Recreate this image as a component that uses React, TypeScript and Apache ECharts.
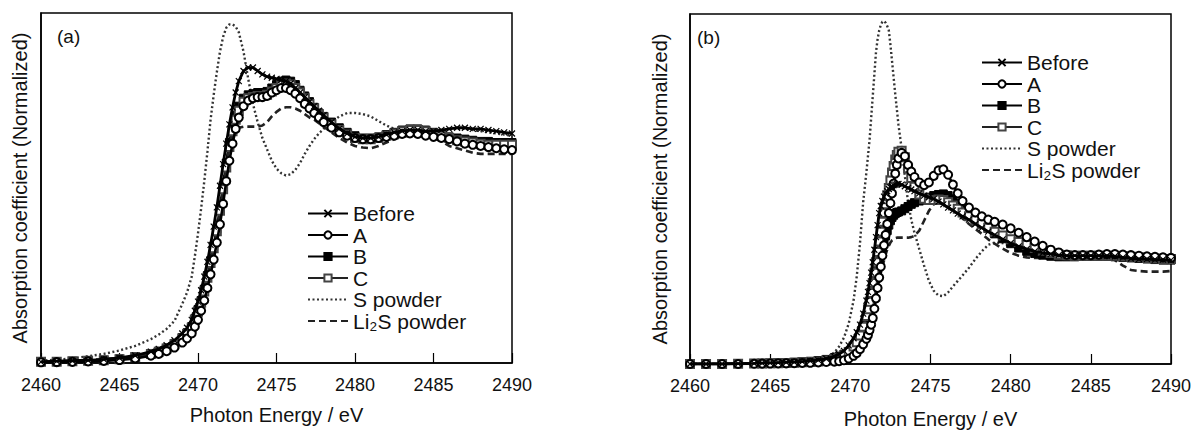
import React, { useEffect, useRef } from "react";
import * as echarts from "echarts";

// ---------- Panel (a) ----------
const energyA = [
  2460, 2461, 2462, 2463, 2464, 2465, 2466, 2467, 2467.5, 2468,
  2468.5, 2469, 2469.3, 2469.6,
  2469.8, 2470, 2470.2, 2470.4, 2470.6, 2470.8, 2471, 2471.2, 2471.4, 2471.6,
  2471.8, 2472, 2472.2, 2472.4, 2472.6,
  2472.9, 2473.2, 2473.5, 2473.8, 2474.1, 2474.4,
  2474.7, 2475, 2475.3, 2475.6, 2475.9, 2476.2, 2476.5, 2476.8, 2477.1, 2477.4,
  2477.7, 2478, 2478.5, 2479, 2479.5, 2480, 2480.5, 2481, 2481.5, 2482,
  2482.5, 2483, 2483.5, 2484, 2484.5, 2485, 2485.5, 2486, 2486.5, 2487,
  2487.5, 2488, 2488.5, 2489, 2489.5, 2490,
];
const beforeA = [
  0.005, 0.008, 0.01, 0.012, 0.016, 0.022, 0.033, 0.05, 0.062, 0.078,
  0.1, 0.13, 0.155, 0.19,
  0.23, 0.27, 0.32, 0.38, 0.445, 0.52, 0.6, 0.685, 0.78, 0.875,
  0.965, 1.05, 1.125, 1.19, 1.24,
  1.285, 1.3, 1.3, 1.285, 1.27, 1.26,
  1.255, 1.25, 1.245, 1.24, 1.23, 1.21, 1.19, 1.17, 1.15, 1.13,
  1.11, 1.09, 1.06, 1.03, 1.01, 0.995, 0.99, 0.99, 0.995, 1.005,
  1.015, 1.02, 1.025, 1.025, 1.02, 1.02, 1.025, 1.03, 1.035, 1.035,
  1.03, 1.03, 1.025, 1.02, 1.015, 1.01,
];
const sampleA_A = [
  0.003, 0.004, 0.005, 0.007, 0.009, 0.013, 0.02, 0.032, 0.04, 0.052,
  0.068, 0.09, 0.108, 0.13,
  0.16, 0.19, 0.23, 0.275, 0.33, 0.39, 0.455, 0.53, 0.61, 0.7,
  0.8, 0.89, 0.965, 1.03, 1.08,
  1.13, 1.155, 1.165, 1.17, 1.17, 1.175,
  1.19, 1.2, 1.21, 1.21, 1.2, 1.185, 1.165, 1.14, 1.12, 1.1,
  1.08, 1.06, 1.035, 1.015, 1.0, 0.99, 0.985, 0.985, 0.99, 0.995,
  1.0, 1.008, 1.01, 1.008, 1.0, 0.995, 0.99, 0.985, 0.975, 0.965,
  0.96, 0.955, 0.95, 0.945, 0.94, 0.937,
];
const sampleB_A = [
  0.005, 0.006, 0.008, 0.01, 0.013, 0.018, 0.028, 0.042, 0.052, 0.066,
  0.085, 0.112, 0.133, 0.16,
  0.195, 0.235, 0.275, 0.325, 0.385, 0.45, 0.515, 0.59, 0.68, 0.78,
  0.88, 0.97, 1.04, 1.09, 1.13,
  1.165, 1.18, 1.185, 1.19, 1.19, 1.195,
  1.21, 1.225, 1.24, 1.245, 1.24, 1.225, 1.2, 1.175, 1.15, 1.125,
  1.1, 1.085, 1.06, 1.035, 1.015, 1.0, 0.99, 0.99, 0.995, 1.005,
  1.015, 1.025, 1.03, 1.03, 1.025, 1.015, 1.005, 0.995, 0.99, 0.985,
  0.98, 0.975, 0.975, 0.97, 0.97, 0.97,
];
const sampleC_A = [
  0.005, 0.006, 0.008, 0.01, 0.012, 0.017, 0.026, 0.04, 0.05, 0.064,
  0.082, 0.108, 0.128, 0.155,
  0.19, 0.225, 0.265, 0.315, 0.375, 0.44, 0.505, 0.58, 0.67, 0.765,
  0.86, 0.95, 1.02, 1.07, 1.11,
  1.15, 1.165, 1.17, 1.175, 1.175, 1.18,
  1.195, 1.21, 1.225, 1.23, 1.225, 1.21, 1.19, 1.165, 1.14, 1.12,
  1.095, 1.08, 1.05, 1.025, 1.005, 0.99, 0.985, 0.985, 0.99, 1.0,
  1.01, 1.02, 1.025, 1.025, 1.02, 1.01, 1.0, 0.99, 0.98, 0.975,
  0.97, 0.965, 0.96, 0.96, 0.96, 0.96,
];
const sPowderA = [
  0.01, 0.015, 0.02, 0.03, 0.04, 0.055, 0.075, 0.105, 0.125, 0.15,
  0.185, 0.26, 0.31, 0.38,
  0.47, 0.57, 0.68, 0.8, 0.93, 1.07, 1.18, 1.28, 1.37, 1.435,
  1.475, 1.49, 1.49, 1.48, 1.455,
  1.37, 1.25, 1.14, 1.06, 0.99, 0.94,
  0.89, 0.855, 0.835, 0.825, 0.83, 0.85, 0.88, 0.92, 0.955, 0.985,
  1.01, 1.03, 1.06, 1.085, 1.1, 1.1, 1.095, 1.085, 1.065, 1.045,
  1.03, 1.02, 1.02, 1.02, 1.02, 1.02, 1.025, 1.03, 1.03, 1.03,
  1.025, 1.02, 1.015, 1.01, 1.005, 1.0,
];
const li2sPowderA = [
  0.005, 0.007, 0.01, 0.013, 0.017, 0.022, 0.032, 0.046, 0.056, 0.07,
  0.088, 0.115, 0.135, 0.165,
  0.2, 0.24, 0.28, 0.33, 0.395, 0.46, 0.53, 0.61, 0.7, 0.795,
  0.885, 0.95, 0.995, 1.02, 1.035,
  1.04, 1.04, 1.04, 1.04, 1.045, 1.06,
  1.085, 1.105, 1.12, 1.125, 1.125, 1.12, 1.11, 1.095, 1.08, 1.07,
  1.055, 1.04, 1.015, 0.99, 0.97, 0.955, 0.948, 0.945, 0.955, 0.97,
  0.985, 0.995, 1.0, 1.0, 0.995, 0.99, 0.975, 0.955, 0.945, 0.935,
  0.925, 0.92, 0.92, 0.92, 0.92, 0.92,
];

// ---------- Panel (b) ----------
const energyB = [
  2460, 2461, 2462, 2463, 2464, 2464.5, 2465, 2465.5, 2466, 2466.5,
  2467, 2467.5, 2468, 2468.5, 2469, 2469.3, 2469.6, 2469.9, 2470.2, 2470.4,
  2470.6, 2470.8,
  2471, 2471.1, 2471.2, 2471.3, 2471.4, 2471.5, 2471.6, 2471.7, 2471.8, 2471.9,
  2472, 2472.1, 2472.2, 2472.3, 2472.4, 2472.5, 2472.6, 2472.7, 2472.8, 2472.9, 2473,
  2473.2, 2473.4, 2473.6, 2473.8, 2474, 2474.3, 2474.6,
  2474.9, 2475.2, 2475.5, 2475.8, 2476.1, 2476.4, 2476.7, 2477, 2477.4, 2477.8,
  2478.2, 2478.6, 2479, 2479.5, 2480, 2480.5, 2481, 2481.5, 2482, 2482.5,
  2483, 2483.5, 2484, 2484.5, 2485, 2485.5, 2486, 2486.5, 2487, 2487.5,
  2488, 2488.5, 2489, 2489.5, 2490,
];
const beforeB = [
  0.0, 0.0, 0.0, 0.003, 0.006, 0.008, 0.01, 0.012, 0.015, 0.018,
  0.022, 0.028, 0.036, 0.048, 0.07, 0.09, 0.12, 0.17, 0.235, 0.29,
  0.36, 0.46,
  0.58, 0.66, 0.74, 0.835, 0.93, 1.045, 1.16, 1.27, 1.38, 1.445,
  1.49, 1.53, 1.56, 1.58, 1.6, 1.615, 1.625, 1.635, 1.64, 1.643, 1.646,
  1.64, 1.625, 1.61, 1.595, 1.58, 1.56, 1.54,
  1.525, 1.51, 1.485, 1.46, 1.43, 1.405, 1.375, 1.35, 1.32, 1.28,
  1.245, 1.21, 1.18, 1.14, 1.105, 1.075, 1.05, 1.03, 1.015, 1.005,
  0.995, 0.99, 0.99, 0.99, 0.99, 0.99, 0.99, 0.985, 0.975, 0.965,
  0.96, 0.96, 0.955, 0.955, 0.95,
];
const sampleA_B = [
  0.0, 0.0, 0.0, 0.0, 0.002, 0.003, 0.004, 0.005, 0.006, 0.007,
  0.009, 0.011, 0.014, 0.018, 0.022, 0.026, 0.034, 0.05, 0.075, 0.1,
  0.135, 0.18,
  0.23, 0.265, 0.31, 0.36, 0.42, 0.505, 0.6, 0.695, 0.79, 0.89,
  0.99, 1.085, 1.18, 1.28, 1.38, 1.47, 1.56, 1.65, 1.74, 1.82, 1.88,
  1.93, 1.9, 1.82, 1.76, 1.71, 1.66, 1.635,
  1.66, 1.72, 1.77, 1.78, 1.73, 1.64, 1.56, 1.49, 1.43, 1.385,
  1.35, 1.32, 1.3, 1.275, 1.24, 1.2, 1.16, 1.12, 1.08, 1.045,
  1.02, 1.0, 0.995, 0.995, 0.995, 1.0, 1.005, 1.005, 1.0, 0.995,
  0.99, 0.985, 0.98, 0.975, 0.97,
];
const sampleB_B = [
  0.0, 0.0, 0.0, 0.003, 0.005, 0.007, 0.009, 0.011, 0.013, 0.016,
  0.02, 0.025, 0.032, 0.042, 0.058, 0.072, 0.09, 0.115, 0.145, 0.18,
  0.23, 0.29,
  0.37, 0.42, 0.48, 0.545, 0.62, 0.7, 0.78, 0.855, 0.93, 1.0,
  1.06, 1.12, 1.17, 1.22, 1.27, 1.31, 1.34, 1.36, 1.375, 1.385, 1.39,
  1.4, 1.42, 1.44, 1.46, 1.475, 1.49, 1.51,
  1.525, 1.54, 1.55, 1.555, 1.54, 1.51, 1.47, 1.43, 1.38, 1.33,
  1.28, 1.24, 1.19, 1.145, 1.1, 1.06, 1.03, 1.01, 0.995, 0.985,
  0.98, 0.98, 0.98, 0.985, 0.985, 0.985, 0.985, 0.98, 0.975, 0.97,
  0.965, 0.96, 0.955, 0.95, 0.95,
];
const sampleC_B = [
  0.0, 0.0, 0.0, 0.002, 0.004, 0.005, 0.006, 0.008, 0.01, 0.012,
  0.015, 0.019, 0.024, 0.032, 0.045, 0.058, 0.078, 0.11, 0.16, 0.2,
  0.26, 0.34,
  0.44, 0.5, 0.57, 0.65, 0.74, 0.835, 0.93, 1.025, 1.12, 1.21,
  1.3, 1.38, 1.46, 1.535, 1.61, 1.68, 1.75, 1.81, 1.87, 1.91, 1.94,
  1.95, 1.89, 1.79, 1.7, 1.62, 1.55, 1.51,
  1.5, 1.5, 1.505, 1.5, 1.48, 1.45, 1.42, 1.385, 1.35, 1.315,
  1.28, 1.245, 1.21, 1.175, 1.14, 1.115, 1.09, 1.06, 1.035, 1.015,
  1.0, 0.995, 0.99, 0.99, 0.99, 0.99, 0.99, 0.99, 0.985, 0.98,
  0.975, 0.97, 0.965, 0.96, 0.96,
];
const sPowderB = [
  0.0, 0.0, 0.0, 0.005, 0.008, 0.01, 0.012, 0.015, 0.018, 0.022,
  0.027, 0.033, 0.04, 0.05, 0.105, 0.16, 0.24, 0.37, 0.58, 0.8,
  1.1, 1.48,
  1.75, 1.9, 2.05, 2.25, 2.45, 2.65, 2.85, 2.97, 3.05, 3.1,
  3.13, 3.135, 3.12, 3.09, 3.05, 2.92, 2.77, 2.62, 2.47, 2.33, 2.19,
  1.97, 1.72, 1.48, 1.32, 1.2, 1.05, 0.9,
  0.76, 0.67, 0.625, 0.62, 0.655, 0.71, 0.76, 0.81, 0.88, 0.96,
  1.03, 1.09, 1.11, 1.105, 1.08, 1.05, 1.02, 1.0, 0.99, 0.985,
  0.98, 0.98, 0.98, 0.98, 0.98, 0.98, 0.98, 0.975, 0.97, 0.965,
  0.96, 0.955, 0.955, 0.955, 0.95,
];
const li2sPowderB = [
  0.0, 0.0, 0.0, 0.002, 0.004, 0.005, 0.007, 0.009, 0.011, 0.014,
  0.017, 0.022, 0.028, 0.038, 0.052, 0.065, 0.082, 0.11, 0.15, 0.19,
  0.24, 0.31,
  0.39, 0.44, 0.49, 0.545, 0.6, 0.645, 0.69, 0.735, 0.78, 0.835,
  0.89, 0.945, 1.0, 1.045, 1.08, 1.11, 1.13, 1.14, 1.15, 1.155, 1.155,
  1.155, 1.155, 1.155, 1.16, 1.17, 1.22, 1.31,
  1.4, 1.46, 1.49, 1.485, 1.46, 1.42, 1.38, 1.33, 1.28, 1.235,
  1.19, 1.14, 1.1, 1.055, 1.015, 0.99, 0.975, 0.97, 0.97, 0.97,
  0.975, 0.98, 0.985, 0.985, 0.985, 0.98, 0.97, 0.95, 0.9, 0.86,
  0.85, 0.845, 0.845, 0.845, 0.85,
];

const xTicks = [2460, 2465, 2470, 2475, 2480, 2485, 2490];
const LI2S = "Li\u2082S powder";
const legendNames = ["Before", "A", "B", "C", "S powder", LI2S];

const FONT = "'Liberation Sans', Arial, Helvetica, 'DejaVu Sans', sans-serif";
const INK = "#111";

const pair = (xs: number[], ys: number[]) => xs.map((x, i) => [x, ys[i]]);

const seriesStyle: Record<string, any> = {
  Before: {
    symbol: "path://M0,0L10,10M10,0L0,10",
    symbolSize: 6,
    itemStyle: { color: "#000", borderColor: "#000", borderWidth: 1.2 },
    lineStyle: { color: "#000", width: 2.8 },
  },
  A: {
    symbol: "circle",
    symbolSize: 8,
    itemStyle: { color: "#fff", borderColor: "#000", borderWidth: 2 },
    lineStyle: { color: "#000", width: 2.6 },
  },
  B: {
    symbol: "rect",
    symbolSize: 8,
    itemStyle: { color: "#000", borderColor: "#000", borderWidth: 1 },
    lineStyle: { color: "#000", width: 2.6 },
  },
  C: {
    symbol: "rect",
    symbolSize: 8,
    itemStyle: { color: "#fff", borderColor: "#444", borderWidth: 2 },
    lineStyle: { color: "#222", width: 2.6 },
  },
  "S powder": {
    symbol: "none",
    lineStyle: { color: "#333", width: 2.4, type: [2, 2.5] },
    itemStyle: { color: "#333" },
  },
  [LI2S]: {
    symbol: "none",
    lineStyle: { color: "#222", width: 2.6, type: [7, 4] },
    itemStyle: { color: "#222" },
  },
};

const makeSeries = (name: string, xs: number[], ys: number[], idx: number, z: number) => ({
  type: "line",
  name,
  xAxisIndex: idx,
  yAxisIndex: idx,
  data: pair(xs, ys),
  showSymbol: seriesStyle[name].symbol !== "none",
  showAllSymbol: true,
  z,
  ...seriesStyle[name],
});

const makeXAxis = (gridIndex: number, margin: number, nameGap: number) => ({
  type: "value",
  gridIndex,
  min: xTicks[0],
  max: xTicks[xTicks.length - 1],
  interval: 5,
  name: "Photon Energy / eV",
  nameLocation: "middle",
  nameGap,
  nameTextStyle: { fontFamily: FONT, fontSize: 20, color: INK },
  axisLine: { show: true, lineStyle: { color: "#000", width: 1.5 } },
  axisTick: { show: true, inside: true, length: 10, lineStyle: { color: "#000", width: 1.2 } },
  axisLabel: {
    fontFamily: FONT,
    fontSize: 18,
    color: INK,
    margin,
    formatter: (v: number) => String(v),
  },
  splitLine: { show: false },
});

const makeYAxis = (gridIndex: number, max: number, nameGap: number) => ({
  type: "value",
  gridIndex,
  min: 0,
  max,
  name: "Absorption coefficient (Normalized)",
  nameLocation: "middle",
  nameRotate: 90,
  nameGap,
  nameTextStyle: { fontFamily: FONT, fontSize: 20, color: INK },
  axisLine: { show: true, lineStyle: { color: "#000", width: 1.5 } },
  axisTick: { show: false },
  axisLabel: { show: false },
  splitLine: { show: false },
});

const legendData = legendNames.map((n) =>
  seriesStyle[n].symbol === "none"
    ? { name: n, itemStyle: { opacity: 0 } }
    : { name: n }
);

const makeLegend = (left: number, top: number) => ({
  orient: "vertical",
  left,
  top,
  itemWidth: 40,
  itemHeight: 9,
  itemGap: 0.5,
  selectedMode: false,
  data: legendData,
  textStyle: {
    fontFamily: FONT,
    fontSize: 21,
    lineHeight: 20,
    color: INK,
  },
});

export default function App() {
  const ref = useRef<HTMLDivElement>(null);
  useEffect(() => {
    if (!ref.current) return;
    const chart = echarts.init(ref.current, null, { renderer: "svg" });
    const panels = [
      { xs: energyA, before: beforeA, a: sampleA_A, b: sampleB_A, c: sampleC_A, s: sPowderA, li: li2sPowderA },
      { xs: energyB, before: beforeB, a: sampleA_B, b: sampleB_B, c: sampleC_B, s: sPowderB, li: li2sPowderB },
    ];
    const series: any[] = [];
    panels.forEach((p, i) => {
      series.push(makeSeries("S powder", p.xs, p.s, i, 2));
      series.push(makeSeries(LI2S, p.xs, p.li, i, 3));
      series.push(makeSeries("B", p.xs, p.b, i, 4));
      series.push(makeSeries("C", p.xs, p.c, i, 5));
      series.push(makeSeries("A", p.xs, p.a, i, 6));
      series.push(makeSeries("Before", p.xs, p.before, i, 7));
    });
    chart.setOption({
      animation: false,
      backgroundColor: "#fff",
      grid: [
        { left: 41, top: 13, width: 471, height: 350, show: true, borderColor: "#000", borderWidth: 1.5, backgroundColor: "transparent" },
        { left: 690, top: 14, width: 481, height: 359, show: true, borderColor: "#000", borderWidth: 1.5, backgroundColor: "transparent" },
      ],
      xAxis: [makeXAxis(0, 13, 42), makeXAxis(1, 13, 45)],
      yAxis: [makeYAxis(0, 1.54, 11), makeYAxis(1, 3.2, 20)],
      legend: [makeLegend(302, 198), makeLegend(976, 47)],
      graphic: [
        { type: "text", left: 57, top: 27, style: { text: "(a)", font: `19px ${FONT}`, fill: INK } },
        { type: "text", left: 697, top: 28, style: { text: "(b)", font: `19px ${FONT}`, fill: INK } },
      ],
      series,
    });
    return () => chart.dispose();
  }, []);
  return (
    <div
      ref={ref}
      style={{ position: "absolute", left: 0, top: 0, width: 1195, height: 434, background: "#fff" }}
    />
  );
}
